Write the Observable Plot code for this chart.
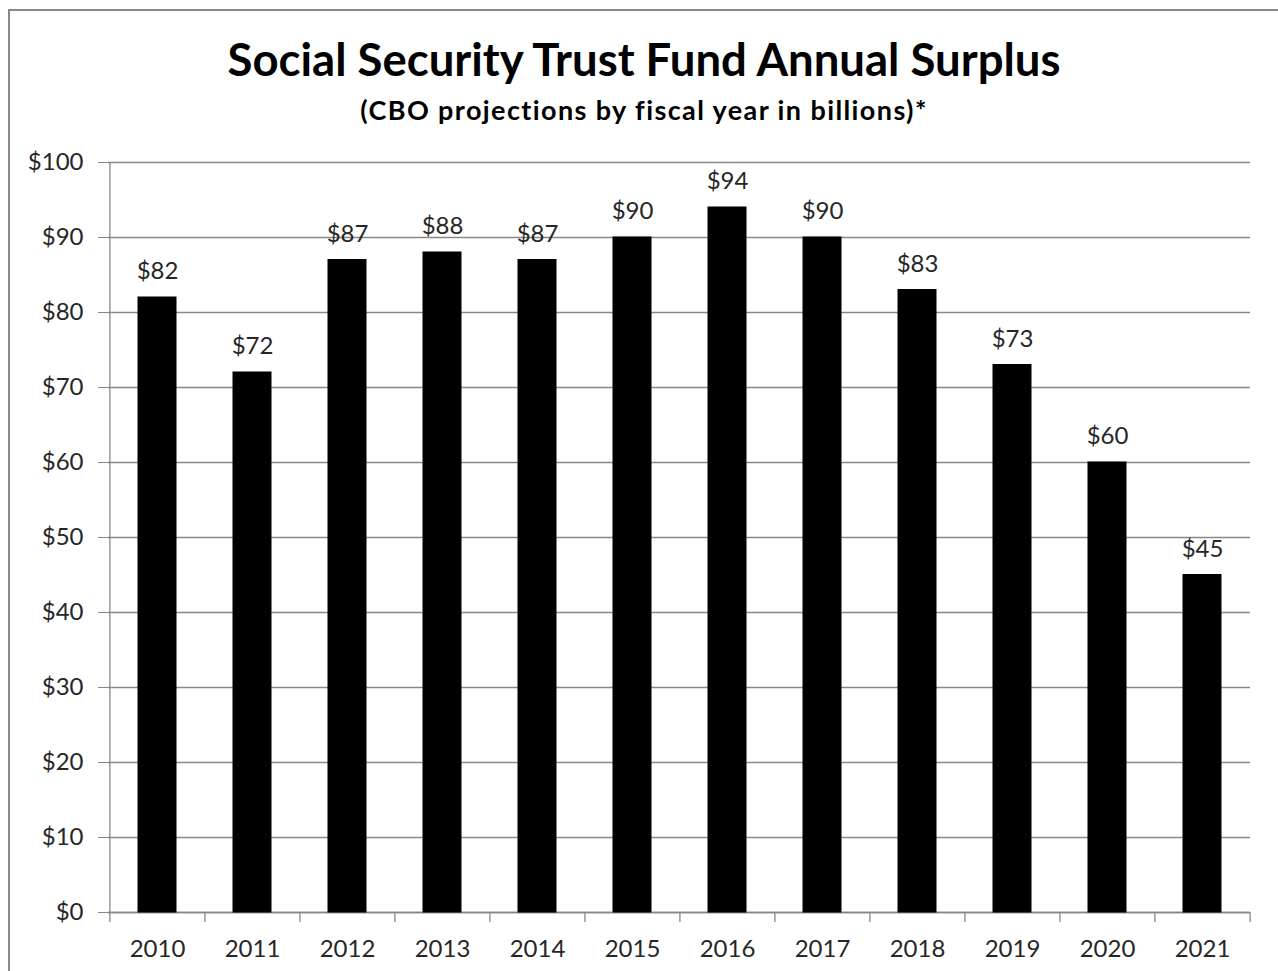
<!DOCTYPE html>
<html>
<head>
<meta charset="utf-8">
<script src="https://cdn.jsdelivr.net/npm/d3@7"></script>
<script src="https://cdn.jsdelivr.net/npm/@observablehq/plot@0.6"></script>
<style>
  html, body { margin: 0; padding: 0; background: #fff; }
  #wrap { position: relative; width: 1278px; height: 971px; overflow: hidden; font-family: Lato, sans-serif; color: #000; }
  #frame { position: absolute; left: 8px; top: 9px; width: 1300px; height: 1000px; border: 2.5px solid #888; box-sizing: border-box; }
  .title { position: absolute; left: 0; width: 1288px; text-align: center; font-weight: bold; white-space: nowrap; line-height: 1.2; font-variant-ligatures: none; }
  #t1 { font-size: 45.5px; top: 32px; }
  #t2 { font-size: 27px; top: 94px; letter-spacing: 1.4px; }
  #chart { position: absolute; left: 0; top: 0; }
</style>
</head>
<body>
<div id="wrap">
  <div id="frame"></div>
  <div class="title" id="t1">Social Security Trust Fund Annual Surplus</div>
  <div class="title" id="t2">(CBO projections by fiscal year in billions)*</div>
  <div id="chart"></div>
</div>
<script>
const years = ["2010","2011","2012","2013","2014","2015","2016","2017","2018","2019","2020","2021"];
const surplus = [82, 72, 87, 88, 87, 90, 94, 90, 83, 73, 60, 45];
const yTicks = [0, 10, 20, 30, 40, 50, 60, 70, 80, 90, 100];

const data = years.map((year, i) => ({year, value: surplus[i]}));

const W = 1278, H = 971;
const mL = 108, mR = 28, mT = 162, mB = 59;
const step = (W - mL - mR) / years.length;
const grid = "#888";
const textColor = "#262626";

const chart = Plot.plot({
  width: W,
  height: H,
  marginLeft: mL,
  marginRight: mR,
  marginTop: mT,
  marginBottom: mB,
  style: {fontFamily: "Lato, sans-serif", fontSize: "24px", background: "transparent", overflow: "visible"},
  x: {type: "band", domain: years, paddingInner: 0.6, paddingOuter: 0.3},
  y: {domain: [0, 100]},
  marks: [
    Plot.gridY(yTicks, {stroke: grid, strokeOpacity: 1, strokeWidth: 1.3}),
    Plot.axisY(yTicks, {tickSize: 10, tickPadding: 15, tickFormat: d => "$" + d, stroke: grid, fill: textColor, label: null}),
    Plot.ruleX([years[0]], {dx: -step / 2, y1: 0, y2: 100, stroke: grid, strokeWidth: 1.3}),
    Plot.ruleY([0], {stroke: grid, strokeWidth: 1.3}),
    Plot.ruleX(years, {dx: -step / 2, y1: 0, y2: 0, insetBottom: -10, stroke: grid, strokeWidth: 1.3}),
    Plot.ruleX([years[years.length - 1]], {dx: step / 2, y1: 0, y2: 0, insetBottom: -10, stroke: grid, strokeWidth: 1.3}),
    Plot.axisX({tickSize: 0, tickPadding: 27, fill: textColor, label: null}),
    Plot.barY(data, {x: "year", y: "value", fill: "#000", stroke: "#000", strokeWidth: 1}),
    Plot.text(data, {x: "year", y: "value", text: d => "$" + d.value, dy: -26, lineAnchor: "middle", fill: textColor, fontSize: 24})
  ]
});
document.getElementById("chart").appendChild(chart);
</script>
</body>
</html>
